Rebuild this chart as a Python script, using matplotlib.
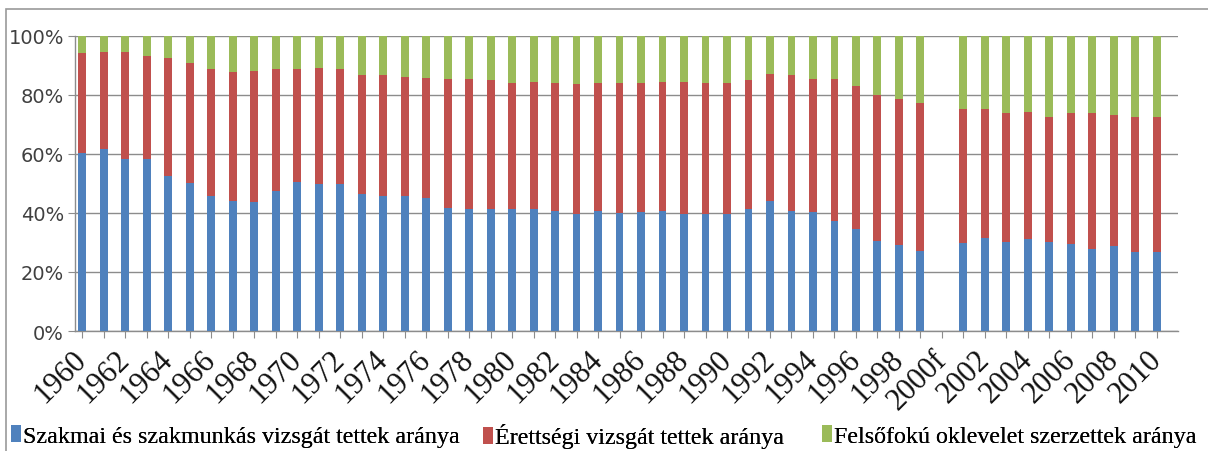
import matplotlib
matplotlib.use("Agg")
import matplotlib.pyplot as plt
import numpy as np
from matplotlib.patches import Rectangle

years = list(range(1960, 2011))
labels = [("2000f" if y == 2000 else str(y)) for y in years]

# cumulative tops (% of total); None = missing year
blue_top = [60.5, 61.6, 58.2, 58.2, 52.5, 50.3, 45.8, 44.1, 43.7, 47.5,
            50.6, 50.0, 49.9, 46.3, 45.8, 45.8, 45.2, 41.8, 41.5, 41.5,
            41.5, 41.2, 40.7, 39.8, 40.7, 40.0, 40.3, 40.7, 39.5, 39.5,
            39.5, 41.2, 44.1, 40.7, 40.3, 37.3, 34.5, 30.5, 29.0, 27.1,
            None, 29.7, 31.6, 30.2, 31.1, 30.2, 29.4, 27.7, 28.8, 26.8, 26.9]
red_top = [94.3, 94.7, 94.7, 93.2, 92.7, 91.0, 88.9, 87.9, 88.1, 88.9,
           88.9, 89.3, 88.9, 86.7, 86.7, 86.2, 85.9, 85.5, 85.3, 85.0,
           84.2, 84.4, 84.0, 83.6, 84.0, 84.0, 84.2, 84.5, 84.4, 84.0,
           84.2, 85.0, 87.2, 86.7, 85.5, 85.3, 83.1, 79.9, 78.8, 77.4,
           None, 75.4, 75.4, 74.0, 74.2, 72.7, 73.8, 73.8, 73.1, 72.5, 72.5]

series_names = ["Szakmai és szakmunkás vizsgát tettek aránya",
                "Érettségi vizsgát tettek aránya",
                "Felsőfokú oklevelet szerzettek aránya"]
colors = ["#4F81BD", "#C0504D", "#9BBB59"]

b = np.array([np.nan if v is None else v for v in blue_top]) / 100
r = np.array([np.nan if v is None else v for v in red_top]) / 100
szak = b
eret = r - b
fels = 1 - r

fig = plt.figure(figsize=(12.08, 4.52), dpi=100)
W, H = 1208, 452
ax = fig.add_axes([75 / W, 1 - 332 / H, (1178 - 75) / W, (332 - 37) / H])

x = np.arange(len(years))
bw = 0.37
bars = []
bars.append(ax.bar(x, szak, bw, color=colors[0], label=series_names[0], zorder=3))
bars.append(ax.bar(x, eret, bw, bottom=szak, color=colors[1], label=series_names[1], zorder=3))
bars.append(ax.bar(x, fels, bw, bottom=szak + eret, color=colors[2], label=series_names[2], zorder=3))

ax.set_xlim(-0.33, 50.98)
ax.set_ylim(0, 1)
ax.set_yticks(np.linspace(0, 1, 6))
ax.set_yticklabels([f"{int(v)}%" for v in np.linspace(0, 100, 6)],
                   fontsize=14, color="#404040", family="DejaVu Sans")
ax.yaxis.grid(True, color="#8c8c8c", linewidth=1.0, zorder=0)
ax.tick_params(axis="y", length=5, color="#8c8c8c", pad=3)

ax.set_xticks(x)
ax.set_xticklabels([lab if i % 2 == 0 else "" for i, lab in enumerate(labels)],
                   rotation=45, ha="right", va="center", rotation_mode="anchor",
                   fontsize=22, family="Liberation Serif", color="#111111")
ax.tick_params(axis="x", length=5, color="#8c8c8c", pad=12)

for s in ["top", "right"]:
    ax.spines[s].set_visible(False)
for s in ["left", "bottom"]:
    ax.spines[s].set_color("#8c8c8c")
    ax.spines[s].set_linewidth(1.0)

leg_x = [11, 483, 822]
for i in range(3):
    lg = fig.legend([bars[i]], [series_names[i]], loc="center left",
                    bbox_to_anchor=(leg_x[i] / W, 1 - 437 / H),
                    frameon=False, handlelength=0.4, handleheight=0.7,
                    handletextpad=0.12, borderpad=0, borderaxespad=0,
                    prop={"family": "Liberation Serif", "size": 17.3})
    fig.add_artist(lg)

fig.patches.append(Rectangle((6 / W, -0.1), 1.2, 1 - 10 / H + 0.1,
                             transform=fig.transFigure, fill=False,
                             edgecolor="#9a9a9a", linewidth=1.2))

fig.savefig("out.png", dpi=100, facecolor="white")
